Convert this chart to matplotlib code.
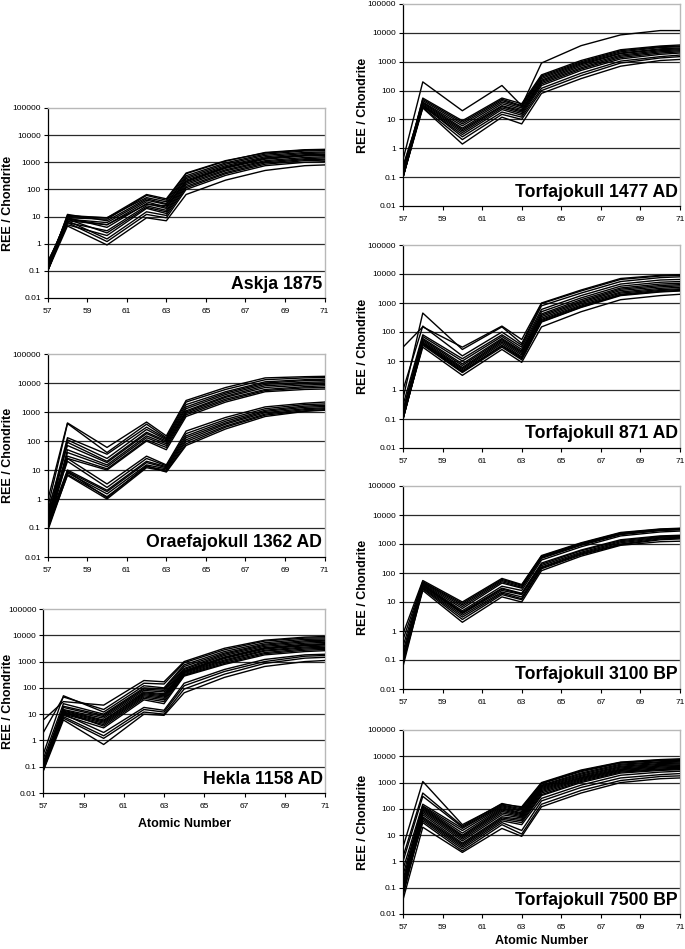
import matplotlib.pyplot as plt
from matplotlib.ticker import NullLocator

plt.rcParams['font.family'] = ['Liberation Sans', 'DejaVu Sans']

# --- DATA: REE / chondrite per sample, at La Ce Nd Sm Eu Gd Dy Er Yb Lu ---
atomic_numbers = [57, 58, 60, 62, 63, 64, 66, 68, 70, 71]
x_ticks = [57, 59, 61, 63, 65, 67, 69, 71]
y_ticks = [0.01, 0.1, 1, 10, 100, 1000, 10000, 100000]
y_tick_labels = ['0.01', '0.1', '1', '10', '100', '1000', '10000', '100000']

askja_1875 = [
    [0.12, 9, 8, 60, 40, 380, 1100, 2300, 2900, 3000],
    [0.15, 10, 9, 50, 35, 320, 950, 2000, 2600, 2700],
    [0.10, 12, 7, 45, 30, 280, 850, 1800, 2300, 2400],
    [0.20, 8, 6, 40, 28, 250, 750, 1600, 2100, 2200],
    [0.10, 7, 5, 35, 22, 220, 680, 1450, 1900, 2000],
    [0.18, 9, 4, 30, 20, 190, 600, 1300, 1700, 1800],
    [0.12, 6, 3, 25, 17, 170, 530, 1150, 1500, 1600],
    [0.10, 8, 2.5, 22, 15, 150, 480, 1050, 1350, 1450],
    [0.14, 5, 2, 20, 13, 130, 420, 950, 1250, 1300],
    [0.10, 7, 1.5, 15, 11, 115, 380, 850, 1150, 1200],
    [0.22, 6, 1.2, 12, 9, 100, 330, 750, 1000, 1050],
    [0.10, 4.5, 0.9, 9, 7, 65, 220, 500, 750, 800],
    [0.13, 11, 9, 65, 45, 400, 1150, 2200, 2800, 2900],
    [0.10, 8, 5, 28, 25, 200, 640, 1400, 1800, 1900],
]

oraefajokull_1362 = [
    [0.9, 420, 60, 450, 150, 2500, 7000, 15000, 16500, 17000],
    [0.5, 400, 40, 380, 130, 2200, 6000, 13000, 15000, 15500],
    [0.3, 130, 35, 300, 120, 1800, 5000, 11000, 13000, 13500],
    [0.2, 110, 25, 250, 110, 1500, 4500, 10000, 12000, 12500],
    [0.15, 90, 20, 200, 100, 1300, 4000, 9000, 10500, 11000],
    [0.4, 70, 18, 180, 90, 1100, 3500, 8000, 9500, 10000],
    [0.12, 50, 15, 150, 80, 1000, 3200, 7000, 8500, 9000],
    [0.1, 40, 13, 130, 70, 900, 2800, 6000, 7500, 8000],
    [0.25, 30, 11, 110, 60, 800, 2500, 5500, 6800, 7000],
    [0.1, 25, 10, 100, 50, 700, 2200, 5000, 6000, 6200],
    [0.3, 25, 3.3, 30, 15, 220, 650, 1500, 2000, 2200],
    [0.2, 20, 2.5, 25, 14, 180, 550, 1300, 1800, 1900],
    [0.15, 10, 2, 20, 13, 150, 480, 1150, 1600, 1700],
    [0.1, 9, 1.8, 18, 12, 130, 420, 1050, 1450, 1550],
    [0.12, 8, 1.5, 15, 11, 110, 380, 950, 1300, 1400],
    [0.08, 7, 1.2, 13, 10, 95, 330, 850, 1200, 1300],
    [0.1, 6.5, 1, 12, 9, 80, 300, 780, 1100, 1200],
    [0.09, 9, 1.1, 14, 8.5, 70, 260, 700, 1050, 1150],
]

hekla_1158 = [
    [6, 30, 22, 190, 170, 1000, 3200, 6500, 8500, 9000],
    [2, 45, 15, 150, 140, 900, 2800, 6000, 7800, 8000],
    [0.3, 50, 12, 120, 100, 750, 2400, 5200, 7000, 7200],
    [0.2, 25, 10, 100, 90, 650, 2100, 4600, 6200, 6500],
    [0.1, 20, 9, 90, 80, 550, 1900, 4200, 5600, 6000],
    [0.15, 18, 8, 80, 70, 500, 1700, 3800, 5000, 5400],
    [0.08, 15, 7, 70, 60, 450, 1500, 3400, 4500, 4800],
    [0.12, 14, 6, 60, 50, 400, 1300, 3000, 4000, 4300],
    [0.1, 12, 5, 55, 45, 380, 1150, 2700, 3600, 3900],
    [0.07, 11, 4.5, 50, 40, 350, 1050, 2500, 3300, 3500],
    [0.1, 10, 4, 45, 35, 320, 950, 2200, 3000, 3200],
    [0.09, 12, 3.5, 40, 30, 300, 850, 2000, 2700, 2900],
    [0.1, 9, 3, 35, 25, 280, 780, 1800, 2400, 2600],
    [0.08, 8, 1.5, 15, 12, 120, 420, 1000, 1600, 1700],
    [0.1, 7, 1.2, 12, 10, 90, 330, 850, 1350, 1450],
    [0.07, 6, 0.7, 10, 9, 65, 250, 650, 1000, 1100],
    [0.12, 13, 5.5, 65, 55, 420, 1400, 3200, 4200, 4500],
    [0.09, 10, 2, 18, 14, 150, 500, 1200, 1800, 1900],
]

torfajokull_1477 = [
    [0.4, 200, 20, 150, 30, 900, 3600, 8500, 12000, 12000],
    [0.1, 55, 9, 55, 35, 350, 1100, 2600, 3500, 3800],
    [0.15, 50, 8, 50, 30, 320, 1000, 2400, 3300, 3500],
    [0.1, 45, 7, 45, 28, 290, 920, 2200, 3100, 3300],
    [0.2, 40, 6, 40, 25, 260, 850, 2000, 2800, 3000],
    [0.1, 38, 5, 35, 22, 230, 780, 1900, 2600, 2800],
    [0.12, 35, 4.5, 30, 20, 210, 700, 1700, 2400, 2600],
    [0.1, 32, 4, 28, 18, 190, 620, 1550, 2200, 2400],
    [0.25, 30, 3.5, 25, 16, 170, 560, 1400, 2000, 2200],
    [0.1, 28, 3, 22, 14, 150, 500, 1250, 1800, 2000],
    [0.1, 30, 2.5, 18, 12, 120, 400, 1050, 1500, 1700],
    [0.15, 26, 2, 15, 10, 100, 330, 900, 1350, 1500],
    [0.1, 25, 1.4, 12, 7, 80, 260, 700, 1100, 1200],
]

torfajokull_871 = [
    [30, 150, 30, 160, 55, 1000, 2800, 7000, 9000, 9500],
    [0.5, 450, 25, 150, 40, 950, 2600, 6500, 8500, 9000],
    [1, 160, 15, 100, 35, 800, 2200, 5500, 7500, 8000],
    [0.3, 80, 12, 80, 30, 600, 1800, 4500, 6200, 6500],
    [0.2, 70, 10, 70, 25, 500, 1500, 3800, 5200, 5500],
    [0.15, 60, 8, 60, 22, 420, 1300, 3300, 4500, 4800],
    [0.1, 55, 7, 55, 20, 380, 1150, 3000, 4000, 4300],
    [0.12, 50, 6, 50, 18, 340, 1050, 2700, 3600, 3900],
    [0.1, 45, 5.5, 45, 16, 300, 950, 2400, 3200, 3500],
    [0.2, 42, 5, 40, 14, 270, 850, 2200, 2900, 3100],
    [0.1, 40, 4.5, 35, 13, 250, 780, 2000, 2700, 2900],
    [0.1, 35, 4, 30, 11, 220, 700, 1800, 2400, 2600],
    [0.12, 30, 3.2, 25, 9, 150, 500, 1300, 1800, 2000],
    [0.1, 38, 4.2, 33, 12, 230, 730, 1900, 2500, 2700],
]

torfajokull_3100 = [
    [0.8, 55, 10, 65, 40, 400, 1100, 2500, 3300, 3500],
    [0.5, 50, 9, 60, 38, 380, 1050, 2400, 3200, 3400],
    [0.3, 48, 8, 55, 35, 360, 1000, 2300, 3100, 3300],
    [0.2, 45, 7, 50, 32, 340, 950, 2200, 3000, 3200],
    [0.15, 42, 6, 45, 30, 320, 900, 2100, 2900, 3100],
    [0.1, 40, 5, 35, 25, 280, 800, 1900, 2600, 2800],
    [0.1, 38, 4.5, 30, 20, 220, 620, 1400, 1900, 2000],
    [0.08, 35, 4, 25, 18, 180, 520, 1200, 1700, 1800],
    [0.1, 32, 3.5, 22, 15, 160, 480, 1100, 1600, 1700],
    [0.06, 30, 3, 20, 13, 150, 450, 1000, 1500, 1600],
    [0.1, 28, 2.5, 18, 12, 140, 420, 950, 1400, 1500],
    [0.08, 25, 2, 15, 10, 120, 380, 900, 1200, 1250],
    [0.12, 36, 4.2, 28, 19, 200, 580, 1300, 1800, 1900],
]

torfajokull_7500 = [
    [3.5, 1100, 25, 150, 120, 1000, 3000, 6000, 7500, 8000],
    [1.5, 400, 22, 160, 110, 950, 2800, 5800, 7200, 7500],
    [1, 300, 20, 140, 100, 900, 2600, 5500, 6800, 7000],
    [0.5, 150, 18, 130, 90, 800, 2300, 5000, 6200, 6500],
    [0.3, 130, 15, 120, 80, 750, 2100, 4600, 5800, 6000],
    [0.2, 120, 12, 110, 70, 700, 1900, 4200, 5300, 5500],
    [0.15, 110, 10, 100, 65, 650, 1750, 3900, 4900, 5100],
    [0.1, 100, 9, 90, 60, 600, 1600, 3600, 4500, 4700],
    [0.08, 90, 8, 80, 55, 550, 1500, 3300, 4200, 4400],
    [0.12, 80, 7, 70, 50, 500, 1400, 3100, 3900, 4100],
    [0.1, 70, 6, 60, 45, 450, 1300, 2900, 3600, 3800],
    [0.06, 60, 5, 50, 40, 400, 1200, 2700, 3300, 3500],
    [0.1, 50, 4.5, 45, 35, 350, 1100, 2500, 3100, 3300],
    [0.05, 45, 4, 40, 30, 320, 1000, 2300, 2900, 3100],
    [0.1, 40, 3.5, 35, 25, 250, 800, 1900, 2500, 2700],
    [0.08, 35, 3, 30, 15, 200, 650, 1500, 2000, 2200],
    [0.035, 20, 2.2, 18, 9, 120, 400, 1000, 1400, 1500],
    [0.1, 30, 2.5, 25, 11, 150, 500, 1200, 1700, 1800],
]

# --- LAYOUT (pixel boxes: left, top, right, bottom) ---
W, H = 685, 949
panels = [
    ("Askja 1875", askja_1875, (47.7, 108, 324.5, 298), False),
    ("Oraefajokull 1362 AD", oraefajokull_1362, (47.7, 354, 324.5, 557), False),
    ("Hekla 1158 AD", hekla_1158, (43.3, 609, 325, 793), True),
    ("Torfajokull 1477 AD", torfajokull_1477, (403, 4, 680, 206), False),
    ("Torfajokull 871 AD", torfajokull_871, (403, 245, 680, 448), False),
    ("Torfajokull 3100 BP", torfajokull_3100, (403, 486, 680, 689), False),
    ("Torfajokull 7500 BP", torfajokull_7500, (403, 730, 680, 914), True),
]

fig = plt.figure(figsize=(W / 100, H / 100), dpi=100)
fig.patch.set_facecolor('white')

for name, samples, (l, t, r, b), show_xlabel in panels:
    ax = fig.add_axes([l / W, 1 - b / H, (r - l) / W, (b - t) / H])
    for ys in samples:
        ax.plot(atomic_numbers, ys, color='black', lw=1.0, zorder=3)

    ax.set_yscale('log')
    ax.set_ylim(y_ticks[0], y_ticks[-1])
    ax.set_xlim(x_ticks[0], x_ticks[-1])
    ax.set_yticks(y_ticks)
    ax.set_yticklabels(y_tick_labels)
    ax.yaxis.set_minor_locator(NullLocator())
    ax.set_xticks(x_ticks)
    ax.set_xticklabels([str(v) for v in x_ticks])

    # decade gridlines
    for yv in y_ticks[1:-1]:
        ax.axhline(yv, color='#2a2a2a', lw=0.9, zorder=1)

    for side in ('top', 'right'):
        ax.spines[side].set_color('#b8b8b8')
        ax.spines[side].set_linewidth(1.0)
    for side in ('left', 'bottom'):
        ax.spines[side].set_color('black')
        ax.spines[side].set_linewidth(0.9)

    ax.tick_params(axis='both', direction='out', length=3, width=0.8,
                   labelsize=6, colors='black', pad=2)
    ax.tick_params(axis='x', pad=4)

    # y label centred at a fixed x in each column
    label_x = 8 if l < 200 else 363
    ax.set_ylabel("REE / Chondrite", fontsize=9, fontweight='bold')
    ax.yaxis.set_label_coords((label_x - l) / (r - l), 0.5)
    ax.yaxis.label.set_va('center')

    if show_xlabel:
        ax.set_xlabel("Atomic Number", fontsize=9, fontweight='bold')
        ax.xaxis.set_label_coords(0.5, -min(31, H - 8 - b) / (b - t))
        ax.xaxis.label.set_va('center')

    ax.text(0.992, 0.047, name, transform=ax.transAxes, ha='right',
            va='baseline', fontsize=12.7, fontweight='bold', color='black',
            zorder=4)

fig.savefig("out.png", dpi=100, facecolor='white')
